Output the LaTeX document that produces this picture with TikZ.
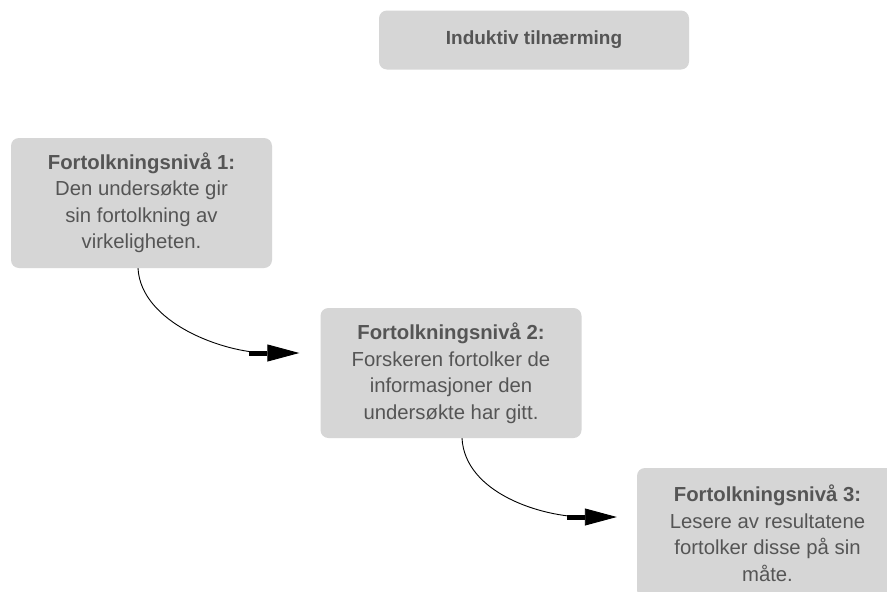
\documentclass[tikz,border=0pt]{standalone}
\usepackage{fontspec}
\setmainfont{Liberation Sans}
\usetikzlibrary{arrows.meta}
\definecolor{boxfill}{HTML}{D6D6D6}
\definecolor{boxtext}{HTML}{555555}
\tikzset{
  lvlbox/.style={fill=boxfill, rounded corners=8pt, minimum width=261pt, minimum height=130pt,
    text=boxtext, align=center, inner sep=0pt,
    font=\fontsize{20.3}{26.5}\selectfont},
  topbox/.style={fill=boxfill, rounded corners=8pt, minimum width=310pt, minimum height=59pt,
    text=boxtext, inner sep=0pt, font=\fontsize{19}{22}\selectfont\bfseries},
  conn/.style={line width=0.9pt, black,
    -{Rectangle[length=18pt,width=5pt,sep=0pt]Triangle[length=32pt,width=17pt]}},
}
\begin{document}
\begin{tikzpicture}[x=1pt,y=-1pt]
\clip (0,0) rectangle (887,592);
\fill[white] (0,0) rectangle (887,592);
\node[topbox] (top) at (534,40) {Induktiv tilnærming};
\node[lvlbox] (b1) at (141.5,203) {\textbf{Fortolkningsnivå 1:}\\Den undersøkte gir\\sin fortolkning av\\virkeligheten.};
\node[lvlbox] (b2) at (451,373) {\textbf{Fortolkningsnivå 2:}\\Forskeren fortolker de\\informasjoner den\\undersøkte har gitt.};
\node[lvlbox] (b3) at (767.5,533) {\textbf{Fortolkningsnivå 3:}\\Lesere av resultatene\\fortolker disse på sin\\måte.};
\draw[conn] ([xshift=-3.5pt]b1.south) .. controls +(3,55) and +(-75,0) .. ([xshift=-21pt,yshift=20pt]b2.west);
\draw[conn] ([xshift=11pt]b2.south) .. controls +(3,55) and +(-75,0) .. ([xshift=-20pt,yshift=16pt]b3.west);
\end{tikzpicture}
\end{document}
